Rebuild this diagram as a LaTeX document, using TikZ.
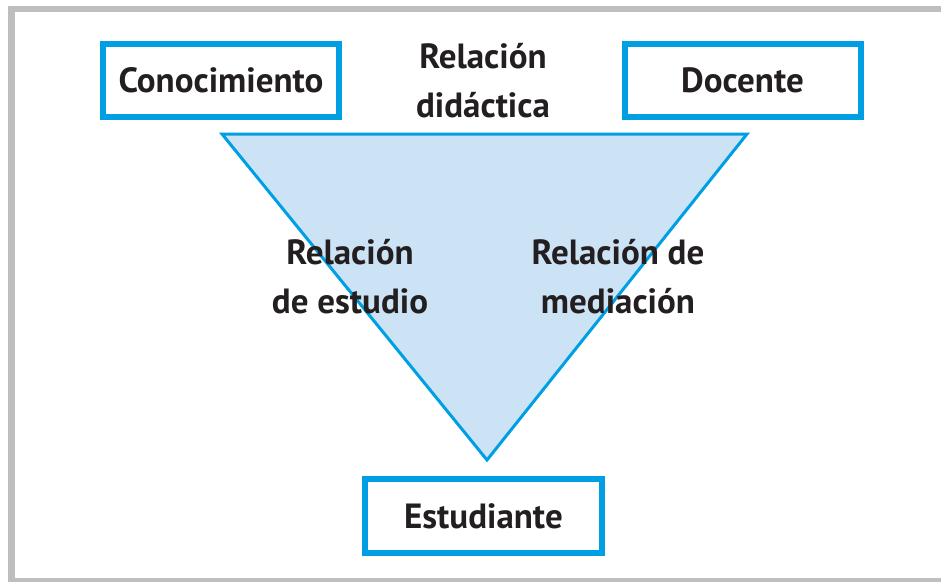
\documentclass[tikz,border=0pt]{standalone}
\usepackage{fontspec}
\setmainfont{PT Sans}
\definecolor{frameGray}{HTML}{BDBEC0}
\definecolor{boxBlue}{HTML}{009FE3}
\definecolor{triFill}{HTML}{CCE3F5}
\definecolor{txt}{HTML}{231F20}
\begin{document}
\begin{tikzpicture}[x=1pt,y=-1pt,
  lbl/.style={font=\fontsize{35}{49}\selectfont\bfseries, text=txt, align=center, inner sep=0pt},
  bluebox/.style={draw=boxBlue, line width=6pt, fill=white, minimum width=236pt, minimum height=73pt, inner sep=0pt, font=\fontsize{35}{49}\selectfont\bfseries, text=txt}]
\useasboundingbox (0,0) rectangle (941,581);
\draw[frameGray, line width=6.5pt] (11.5,9) rectangle (960,581);
% triangle
\coordinate (tl) at (222,134);
\coordinate (tr) at (747,134);
\coordinate (tb) at (487,460);
\draw[boxBlue, fill=triFill, line width=3pt, line join=miter] (tl) -- (tr) -- (tb) -- cycle;
% boxes
\node[bluebox] (con) at (221,80.5) {Conocimiento};
\node[bluebox] (doc) at (742.5,80.5) {Docente};
\node[bluebox, minimum width=237pt, minimum height=74pt] (est) at (483.5,516) {Estudiante};
% labels
\node[lbl] (did) at (483,81) {Relación\\didáctica};
\node[lbl] (estu) at (350,277) {Relación\\de estudio};
\node[lbl] (med) at (618,277) {Relación de\\mediación};
\end{tikzpicture}
\end{document}
